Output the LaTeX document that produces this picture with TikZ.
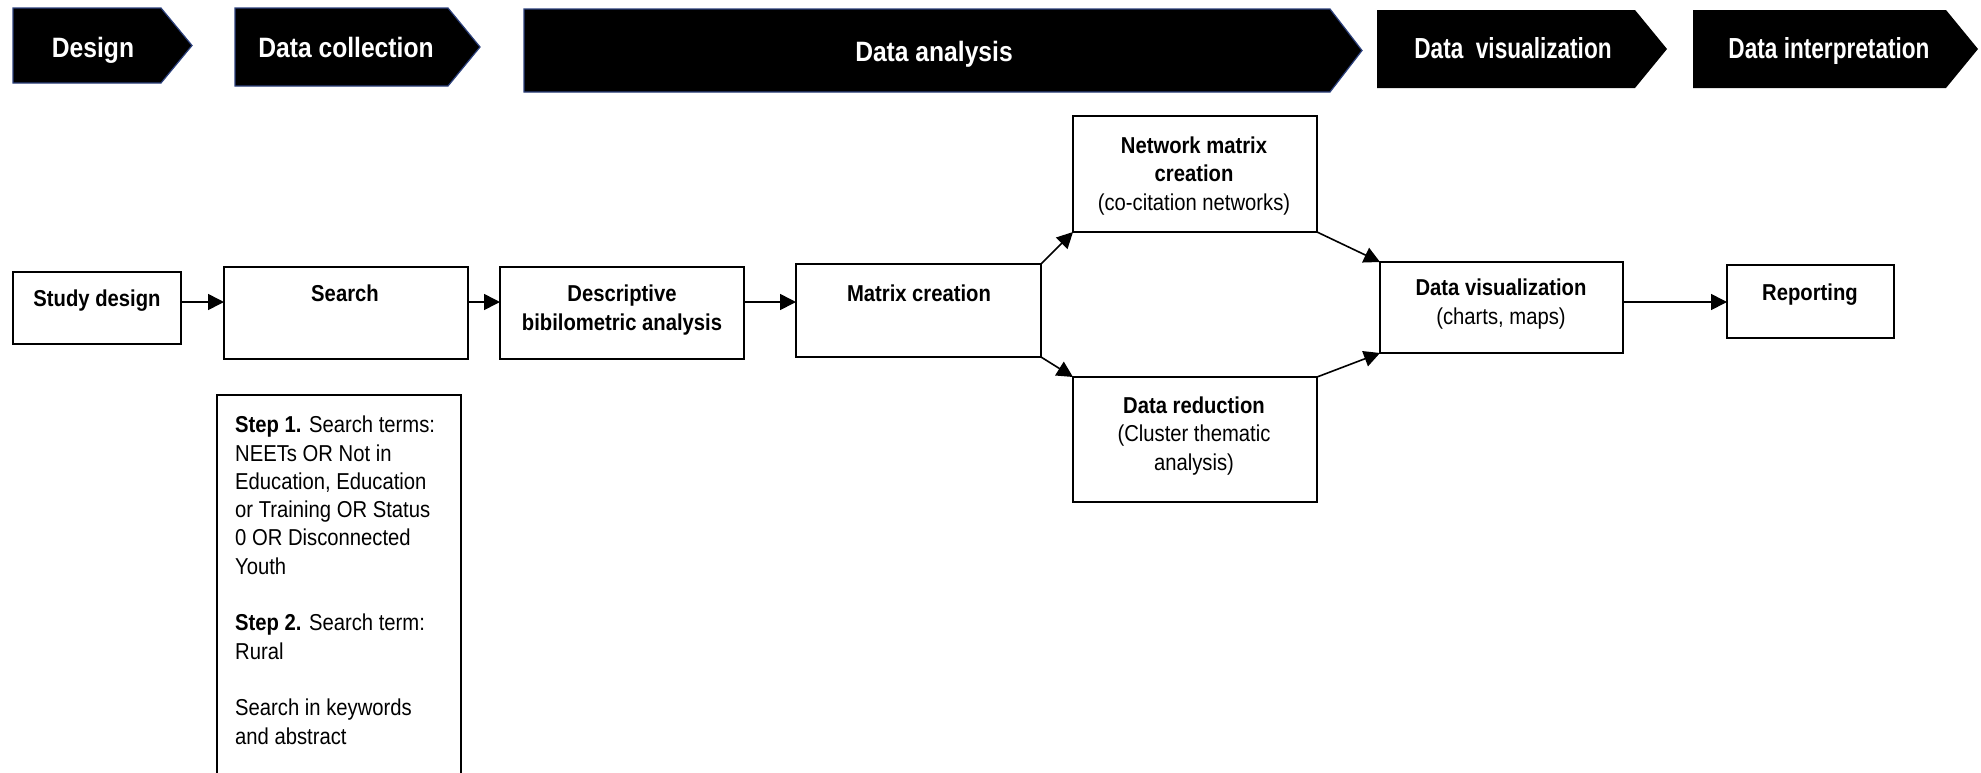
\documentclass[tikz,border=0pt]{standalone}
\usepackage{fontspec}
\setmainfont{Liberation Sans}[FakeStretch=0.88]
\newfontfamily\hdrfont{Liberation Sans}[FakeStretch=0.78]
\usetikzlibrary{arrows.meta}
\definecolor{hdredge}{RGB}{45,65,125}
\begin{document}
\begin{tikzpicture}[x=1pt,y=-1pt,
  hdr/.style={fill=black},
  hdrb/.style={fill=black, draw=hdredge, line width=1.2pt},
  htext/.style={text=white, font=\fontsize{28}{30}\selectfont\bfseries, anchor=base, inner sep=0pt},
  htextn/.style={text=white, font=\hdrfont\fontsize{29}{30}\selectfont\bfseries, anchor=base, inner sep=0pt},
  box/.style={draw=black, line width=1.6pt, anchor=north west, inner sep=0pt, outer sep=0pt},
  btext/.style={font=\fontsize{23}{28.5}\selectfont, anchor=base, inner sep=0pt, align=center},
  arr/.style={line width=1.6pt, -{Triangle[length=16pt,width=16pt]}}
]
\clip (0,0) rectangle (1981,772);
\fill[white] (0,0) rectangle (1981,772);

% ---------- header chevrons ----------
\filldraw[hdrb] (13,8) -- (161,8) -- (192,45.5) -- (161,83) -- (13,83) -- cycle;
\filldraw[hdrb] (235,8) -- (448,8) -- (480,47) -- (448,86) -- (235,86) -- cycle;
\filldraw[hdrb] (524,9) -- (1330,9) -- (1362,50.5) -- (1330,92) -- (524,92) -- cycle;
\fill[hdr] (1377,10) -- (1635,10) -- (1667,49) -- (1635,88) -- (1377,88) -- cycle;
\fill[hdr] (1693,10) -- (1946,10) -- (1978,49) -- (1946,88) -- (1693,88) -- cycle;

\node[htext] (hDesign) at (93,57) {Design};
\node[htext] (hCollect) at (346,57) {Data collection};
\node[htext] (hAnalysis) at (934,61) {Data analysis};
\node[htextn] (hVis) at (1513,58) {Data\ \ visualization};
\node[htextn] (hInterp) at (1829,58) {Data interpretation};

% ---------- flow boxes ----------
\node[box, minimum width=168pt, minimum height=72pt] (study) at (13,272) {};
\node[box, minimum width=244pt, minimum height=92pt] (search) at (224,267) {};
\node[box, minimum width=244pt, minimum height=92pt] (desc) at (500,267) {};
\node[box, minimum width=245pt, minimum height=93pt] (matrix) at (796,264) {};
\node[box, minimum width=244pt, minimum height=116pt] (network) at (1073,116) {};
\node[box, minimum width=244pt, minimum height=125pt] (reduction) at (1073,377) {};
\node[box, minimum width=243pt, minimum height=91pt] (dv) at (1380,262) {};
\node[box, minimum width=167pt, minimum height=73pt] (report) at (1727,265) {};
\node[box, minimum width=244pt, minimum height=420pt] (terms) at (217,395) {};

% ---------- texts (anchor = baseline of last line) ----------
\node[btext] (studyT) at (97,306) {\bfseries Study design};
\node[btext] (searchT) at (345,301) {\bfseries Search};
\node[btext] (descT) at (622,330) {\bfseries Descriptive\\\bfseries bibilometric analysis};
\node[btext] (matrixT) at (919,301) {\bfseries Matrix creation};
\node[btext] (networkT) at (1194,210) {\bfseries Network matrix\\\bfseries creation\\(co-citation networks)};
\node[btext] (reductionT) at (1194,470) {\bfseries Data reduction\\(Cluster thematic\\analysis)};
\node[btext] (dvT) at (1501,324) {\bfseries Data visualization\\(charts, maps)};
\node[btext] (reportT) at (1810,300) {\bfseries Reporting};

\node[font=\fontsize{23}{28.3}\selectfont, anchor=base west, inner sep=0pt, align=left] (termsT) at (235,744)
 {\textbf{Step 1.} Search terms:\\
  NEETs OR Not in\\
  Education, Education\\
  or Training OR Status\\
  0 OR Disconnected\\
  Youth\\[28.3pt]
  \textbf{Step 2.} Search term:\\
  Rural\\[28.3pt]
  Search in keywords\\
  and abstract};

% ---------- connectors ----------
\draw[arr] (study.east |- 0,302) -- (search.west |- 0,302);
\draw[arr] (search.east |- 0,302) -- (desc.west |- 0,302);
\draw[arr] (desc.east |- 0,302) -- (matrix.west |- 0,302);
\draw[arr] (matrix.north east) -- (network.south west);
\draw[arr] (matrix.south east) -- (reduction.north west);
\draw[arr] (network.south east) -- (dv.north west);
\draw[arr] (reduction.north east) -- (dv.south west);
\draw[arr] (dv.east |- 0,302) -- (report.west |- 0,302);
\end{tikzpicture}
\end{document}
